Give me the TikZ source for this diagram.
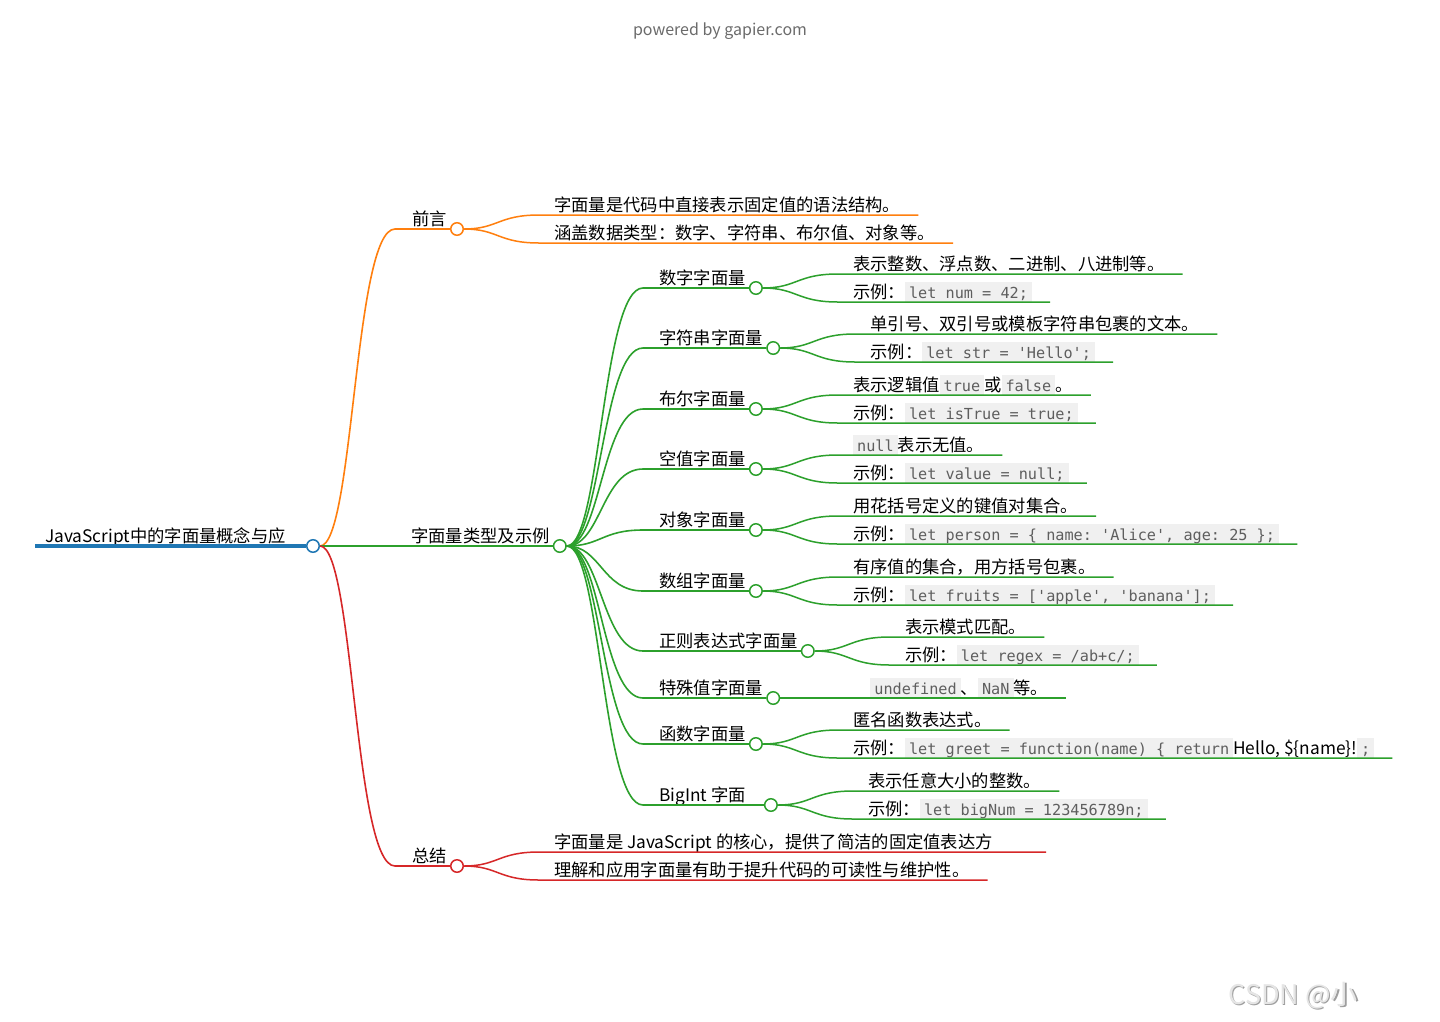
\documentclass[tikz,border=0pt]{standalone}
\usepackage{fontspec}
\setmainfont{Noto Sans CJK SC}
\setmonofont{DejaVu Sans Mono}
\usepackage{tikz}

\definecolor{mmblue}{HTML}{1F77B4}
\definecolor{mmorange}{HTML}{FF7F0E}
\definecolor{mmgreen}{HTML}{2CA02C}
\definecolor{mmred}{HTML}{D62728}
\definecolor{codebg}{HTML}{F0F0F0}
\definecolor{codegray}{HTML}{5E5E5E}

% inline code in a grey box
\newcommand\jscode[1]{{\setlength\fboxsep{0pt}\colorbox{codebg}{\rule[-4pt]{0pt}{20pt}\hspace{4pt}{\ttfamily\fontsize{15.2}{18}\selectfont\color{codegray}#1}\hspace{4pt}}}}

\tikzset{
  topic/.style={anchor=base west, inner sep=0pt, font=\fontsize{17.3}{20}\selectfont},
  knot/.style={circle, draw=#1, fill=white, line width=1.5pt, minimum size=12.5pt, inner sep=0pt},
  wire/.style={draw=#1, line width=1.6pt},
}

\begin{document}
\begin{tikzpicture}[x=1pt, y=-1pt]
    % Define parameters
    \def\linkgap{82pt}   % from a circle to the start of the child line
    \def\linkbend{41}    % control distance of a link

    \fill[white] (0,0) rectangle (1440,1021);
    \useasboundingbox (0,0) rectangle (1440,1021);
    \node[font=\fontsize{16}{19}\selectfont, text=black!58, anchor=base] (credit) at (720, 35) {powered by gapier.com};

    % Draw root
    \coordinate (root-s) at (35, 546);
    \node[topic] (root) at (45, 542) {JavaScript中的字面量概念与应};
    \node[knot=mmblue] (root-o) at (313, 546) {};
    \draw[wire=mmblue, line width=4pt] (root-s) -- (root-o);

    % Draw first level
    \node[topic] (intro) at (412, 225) {前言};
    \node[topic] (types) at (411, 542) {字面量类型及示例};
    \node[topic] (summary) at (412, 862) {总结};
    \foreach \nm/\col/\y in {intro/mmorange/229, types/mmgreen/546, summary/mmred/866} {
        \coordinate (\nm-s) at (395, \y);
        \node[knot=\col] (\nm-o) at ([xshift=10pt, yshift=-4pt]\nm.base east) {};
        \draw[wire=\col] (root-o) .. controls +(\linkbend,0) and +(-\linkbend,0) .. (\nm-s) -- (\nm-o);
    }

    % Draw literal types
    \foreach \y/\nm/\txt in {288/num/数字字面量, 348/str/字符串字面量, 409/bool/布尔字面量, 469/nul/空值字面量,
                            530/obj/对象字面量, 591/arr/数组字面量, 651/regex/正则表达式字面量,
                            698/special/特殊值字面量, 744/func/函数字面量, 805/big/BigInt 字面\kern15pt} {
        \node[topic] (\nm) at (659, \y-4) {\txt};
        \coordinate (\nm-s) at (643, \y);
        \node[knot=mmgreen] (\nm-o) at ([xshift=10pt, yshift=-4pt]\nm.base east) {};
        \draw[wire=mmgreen] (types-o) .. controls +(\linkbend,0) and +(-\linkbend,0) .. (\nm-s) -- (\nm-o);
    }

    % Draw leaves, two per branch
    \foreach \nm/\col/\ta/\tb in {
        intro/mmorange/{字面量是代码中直接表示固定值的语法结构。}/{涵盖数据类型：数字、字符串、布尔值、对象等。},
        num/mmgreen/{表示整数、浮点数、二进制、八进制等。}/{示例：\jscode{let num = 42;}},
        str/mmgreen/{单引号、双引号或模板字符串包裹的文本。}/{示例：\jscode{let str = 'Hello';}},
        bool/mmgreen/{表示逻辑值\jscode{true}或\jscode{false}。}/{示例：\jscode{let isTrue = true;}},
        nul/mmgreen/{\jscode{null}表示无值。}/{示例：\jscode{let value = null;}},
        obj/mmgreen/{用花括号定义的键值对集合。}/{示例：\jscode{let person = \{ name: 'Alice', age: 25 \};}},
        arr/mmgreen/{有序值的集合，用方括号包裹。}/{示例：\jscode{let fruits = ['apple', 'banana'];}},
        regex/mmgreen/{表示模式匹配。}/{示例：\jscode{let regex = /ab+c/;}},
        func/mmgreen/{匿名函数表达式。}/{示例：\jscode{let greet = function(name) \{ return}Hello, \$\{name\}!\jscode{;}},
        big/mmgreen/{表示任意大小的整数。}/{示例：\jscode{let bigNum = 123456789n;}},
        summary/mmred/{字面量是 JavaScript 的核心，提供了简洁的固定值表达方\kern35pt}/{理解和应用字面量有助于提升代码的可读性与维护性。}
    } {
        \node[topic] (\nm-a) at ([xshift=97pt, yshift=18pt]\nm-o.center) {\ta};
        \node[topic] (\nm-b) at ([xshift=97pt, yshift=-10pt]\nm-o.center) {\tb};
        \coordinate (\nm-a-s) at ([xshift=\linkgap, yshift=14pt]\nm-o.center);
        \coordinate (\nm-b-s) at ([xshift=\linkgap, yshift=-14pt]\nm-o.center);
        \coordinate (\nm-a-e) at ([xshift=18pt, yshift=-4pt]\nm-a.base east);
        \coordinate (\nm-b-e) at ([xshift=18pt, yshift=-4pt]\nm-b.base east);
        \draw[wire=\col, line width=1.5pt] (\nm-o) .. controls +(\linkbend,0) and +(-\linkbend,0) .. (\nm-a-s) -- (\nm-a-e);
        \draw[wire=\col, line width=1.5pt] (\nm-o) .. controls +(\linkbend,0) and +(-\linkbend,0) .. (\nm-b-s) -- (\nm-b-e);
    }

    % Special values: one leaf only
    \node[topic] (special-a) at ([xshift=97pt, yshift=4pt]special-o.center) {\jscode{undefined}、\jscode{NaN}等。};
    \coordinate (special-a-s) at ([xshift=\linkgap]special-o.center);
    \coordinate (special-a-e) at ([xshift=18pt, yshift=-4pt]special-a.base east);
    \draw[wire=mmgreen, line width=1.5pt] (special-o) -- (special-a-s) -- (special-a-e);

    % Watermark
    \node[font=\fontsize{27}{30}\selectfont, text=black!38, anchor=base west] (mark-shadow) at (1226.2, 1005.2) {CSDN @小};
    \node[font=\fontsize{27}{30}\selectfont, text=black!10, anchor=base west] (mark) at (1225, 1004) {CSDN @小};
\end{tikzpicture}
\end{document}
